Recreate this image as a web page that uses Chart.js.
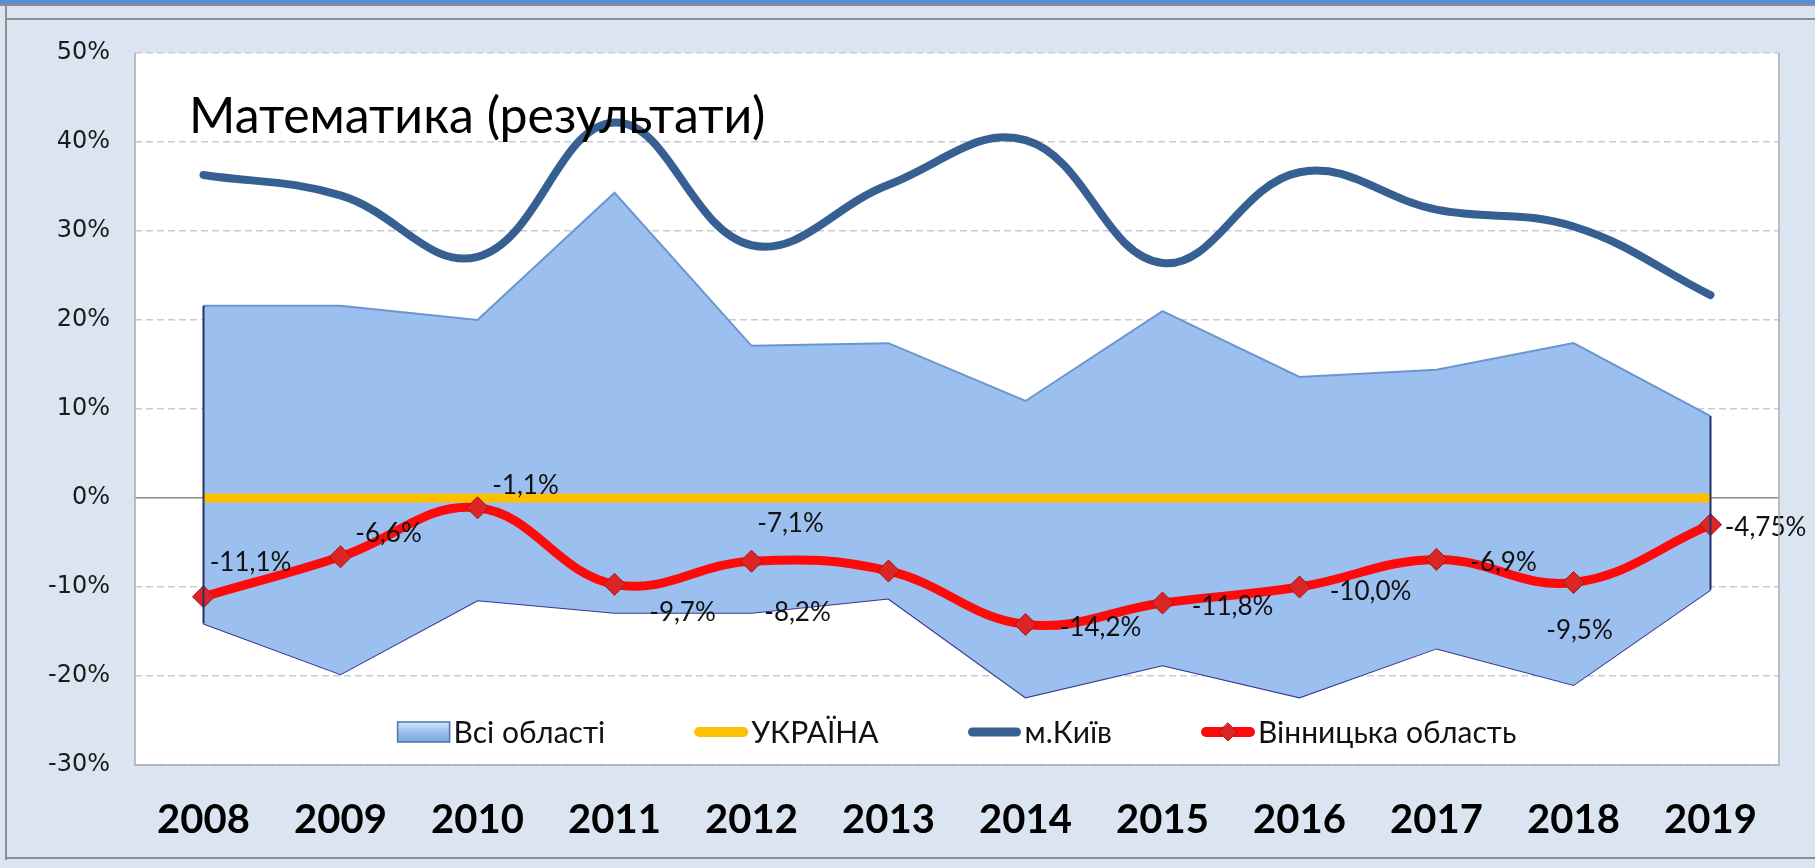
<!DOCTYPE html>
<html>
<head>
<meta charset="utf-8">
<script src="https://cdn.jsdelivr.net/npm/chart.js@4/dist/chart.umd.min.js"></script>
<style>
  html, body { margin: 0; padding: 0; }
  body { width: 1815px; height: 868px; background: #dbe5f1; position: relative; overflow: hidden; }
  .band { position: absolute; left: 0; top: 0; width: 1815px; height: 4px; background: #5a8fd6; }
  .hl { position: absolute; height: 2px; background: #8e8e8e; }
  .vl { position: absolute; width: 2px; background: #8e8e8e; }
  #wrap { position: absolute; left: 0; top: 0; width: 1815px; height: 868px; }
</style>
</head>
<body>
<div class="band"></div>
<div class="hl" style="left:0;top:4px;width:1815px"></div>
<div class="hl" style="left:6px;top:18px;width:1809px"></div>
<div class="vl" style="left:5px;top:4px;height:856px"></div>
<div class="hl" style="left:6px;top:857px;width:1809px"></div>
<div id="wrap"><canvas id="chart" width="1815" height="868"></canvas></div>
<script>
const years = ['2008', '2009', '2010', '2011', '2012', '2013', '2014', '2015', '2016', '2017', '2018', '2019'];
const allMax = [21.6, 21.6, 20.0, 34.3, 17.1, 17.4, 10.9, 21.0, 13.6, 14.4, 17.4, 9.2];
const allMin = [-14.1, -19.8, -11.5, -12.9, -12.9, -11.3, -22.4, -18.8, -22.4, -16.9, -21.0, -10.3];
const ukraine = [0, 0, 0, 0, 0, 0, 0, 0, 0, 0, 0, 0];
const kyiv = [36.3, 34.0, 27.1, 42.2, 28.4, 35.2, 40.2, 26.4, 36.6, 32.4, 30.5, 22.8];
const vinnytsia = [-11.1, -6.6, -1.1, -9.7, -7.1, -8.2, -14.2, -11.8, -10.0, -6.9, -9.5, -3.0];
const vinLabels = ['-11,1%', '-6,6%', '-1,1%', '-9,7%', '-7,1%', '-8,2%', '-14,2%', '-11,8%', '-10,0%', '-6,9%', '-9,5%', '-4,75%'];
const yTicks = [-30, -20, -10, 0, 10, 20, 30, 40, 50];

const titleText = 'Математика (результати)';
const comic = "Lato, 'Noto Sans', sans-serif";

// where each red value label sits relative to its point
const labelShift = [[47, -34], [48, -23], [48, -22], [68, 28], [39, -38], [-91, 42], [75, 3], [70, 4], [71, 5], [67, 3], [6, 48], [55, 3]];

const plotBg = {
    id: 'plotBg',
    beforeDraw(chart) {
        const a = chart.chartArea, c = chart.ctx;
        c.save();
        c.fillStyle = '#ffffff';
        c.fillRect(a.left, a.top, a.right - a.left, a.bottom - a.top);
        c.restore();
    },
    afterDraw(chart) {
        const a = chart.chartArea, c = chart.ctx;
        c.save();
        c.strokeStyle = '#a9acb2';
        c.lineWidth = 1.5;
        c.beginPath();
        c.moveTo(a.left, a.top);
        c.lineTo(a.left, a.bottom);
        c.lineTo(a.right, a.bottom);
        c.lineTo(a.right, a.top);
        c.stroke();
        c.restore();
    }
};

// vertical ends of the "all regions" band
const areaEdges = {
    id: 'areaEdges',
    afterDatasetsDraw(chart) {
        const up = chart.getDatasetMeta(3).data, lo = chart.getDatasetMeta(4).data;
        const c = chart.ctx;
        c.save();
        c.strokeStyle = '#26306a';
        c.lineWidth = 2;
        [0, up.length - 1].forEach(function (i) {
            c.beginPath();
            c.moveTo(up[i].x, up[i].y);
            c.lineTo(lo[i].x, lo[i].y);
            c.stroke();
        });
        c.restore();
    }
};

const redLabels = {
    id: 'redLabels',
    afterDatasetsDraw(chart) {
        const pts = chart.getDatasetMeta(0).data, c = chart.ctx;
        c.save();
        c.font = '26px ' + comic;
        c.fillStyle = '#111111';
        c.textAlign = 'center';
        c.textBaseline = 'middle';
        pts.forEach(function (p, i) {
            c.fillText(vinLabels[i], p.x + labelShift[i][0], p.y + labelShift[i][1]);
        });
        c.restore();
    }
};

const titleInside = {
    id: 'titleInside',
    afterDatasetsDraw(chart) {
        const a = chart.chartArea, c = chart.ctx;
        c.save();
        c.font = '50px ' + comic;
        c.fillStyle = '#000000';
        c.textBaseline = 'middle';
        c.fillText(titleText, a.left + 54, a.top + 64);
        c.restore();
    }
};

const innerLegend = {
    id: 'innerLegend',
    afterDraw(chart) {
        const a = chart.chartArea, c = chart.ctx;
        const y = a.bottom - 33;
        const iconW = 52, gapIcon = 4, gapItem = 90;
        const items = chart.data.datasets.filter(d => d.legend);
        items.sort((p, q) => p.legendPos - q.legendPos);
        c.save();
        c.font = '30px ' + comic;
        const widths = items.map(d => iconW + gapIcon + c.measureText(d.label).width);
        const total = widths.reduce((s, w) => s + w, 0) + gapItem * (items.length - 1);
        let x = (a.left + a.right) / 2 - total / 2;
        items.forEach(function (d, i) {
            if (d.legend === 'box') {
                const g = c.createLinearGradient(0, y - 10, 0, y + 10);
                g.addColorStop(0, '#d3e6fb');
                g.addColorStop(0.5, '#9cc0ee');
                g.addColorStop(1, '#7ea6dc');
                c.fillStyle = g;
                c.fillRect(x, y - 10, iconW, 20);
                c.strokeStyle = '#4d74ad';
                c.lineWidth = 1.5;
                c.strokeRect(x, y - 10, iconW, 20);
            } else {
                c.strokeStyle = d.borderColor;
                c.lineWidth = d.borderWidth + 1;
                c.lineCap = 'round';
                c.beginPath();
                c.moveTo(x + 4, y);
                c.lineTo(x + iconW - 4, y);
                c.stroke();
                if (d.legend === 'marker') {
                    c.fillStyle = d.pointBackgroundColor;
                    c.strokeStyle = d.pointBorderColor;
                    c.lineWidth = 1;
                    c.beginPath();
                    c.moveTo(x + iconW / 2, y - 9);
                    c.lineTo(x + iconW / 2 + 9, y);
                    c.lineTo(x + iconW / 2, y + 9);
                    c.lineTo(x + iconW / 2 - 9, y);
                    c.closePath();
                    c.fill();
                    c.stroke();
                }
            }
            c.fillStyle = '#111111';
            c.textBaseline = 'middle';
            c.fillText(d.label, x + iconW + gapIcon, y + 1);
            x += widths[i] + gapItem;
        });
        c.restore();
    }
};

const ctx = document.getElementById('chart').getContext('2d');

new Chart(ctx, {
    type: 'line',
    data: {
        labels: years,
        datasets: [
            {
                label: 'Вінницька область',
                data: vinnytsia,
                borderColor: '#ff0a0a',
                borderWidth: 9,
                tension: 0.4,
                pointStyle: 'rectRot',
                pointRadius: 11,
                pointBackgroundColor: '#dc2626',
                pointBorderColor: '#a31515',
                pointBorderWidth: 1,
                fill: false,
                order: 0,
                legend: 'marker',
                legendPos: 3
            },
            {
                label: 'м.Київ',
                data: kyiv,
                borderColor: '#376092',
                borderWidth: 8,
                tension: 0.4,
                pointRadius: 0,
                borderCapStyle: 'round',
                fill: false,
                order: 1,
                legend: 'line',
                legendPos: 2
            },
            {
                label: 'УКРАЇНА',
                data: ukraine,
                borderColor: '#ffc000',
                borderWidth: 9,
                pointRadius: 0,
                fill: false,
                order: 2,
                legend: 'line',
                legendPos: 1
            },
            {
                label: 'Всі області',
                data: allMax,
                borderColor: '#6a96d0',
                borderWidth: 2,
                backgroundColor: '#9bbfee',
                pointRadius: 0,
                tension: 0,
                fill: '+1',
                order: 3,
                legend: 'box',
                legendPos: 0
            },
            {
                label: '',
                data: allMin,
                borderColor: '#3b3790',
                borderWidth: 2,
                pointRadius: 0,
                tension: 0,
                fill: false,
                order: 4
            }
        ]
    },
    options: {
        responsive: false,
        animation: false,
        layout: {
            padding: {left: 0, top: 53, right: 36, bottom: 0}
        },
        plugins: {
            legend: {display: false},
            title: {display: false},
            tooltip: {enabled: false}
        },
        scales: {
            x: {
                offset: true,
                grid: {display: false, drawTicks: false},
                border: {display: false},
                ticks: {
                    padding: 31,
                    color: '#000000',
                    font: {family: comic, size: 40, weight: 'bold'}
                },
                afterFit: function (s) {
                    s.height = 103;
                }
            },
            y: {
                min: -30,
                max: 50,
                afterBuildTicks: function (s) {
                    s.ticks = yTicks.map(v => ({value: v}));
                },
                grid: {
                    drawTicks: false,
                    color: function (c) {
                        return c.tick && c.tick.value === 0 ? '#8c8c8c' : '#c5ccd8';
                    },
                    lineWidth: 1.5
                },
                border: {
                    display: false,
                    dash: function (c) {
                        return c.tick && c.tick.value === 0 ? [] : [7, 4];
                    }
                },
                ticks: {
                    padding: 25,
                    color: '#1a1a1a',
                    font: {family: "'DejaVu Sans', sans-serif", size: 24},
                    callback: function (v) {
                        return v + '%';
                    }
                },
                afterFit: function (s) {
                    s.width = 135;
                }
            }
        }
    },
    plugins: [plotBg, areaEdges, redLabels, titleInside, innerLegend]
});
</script>
</body>
</html>
